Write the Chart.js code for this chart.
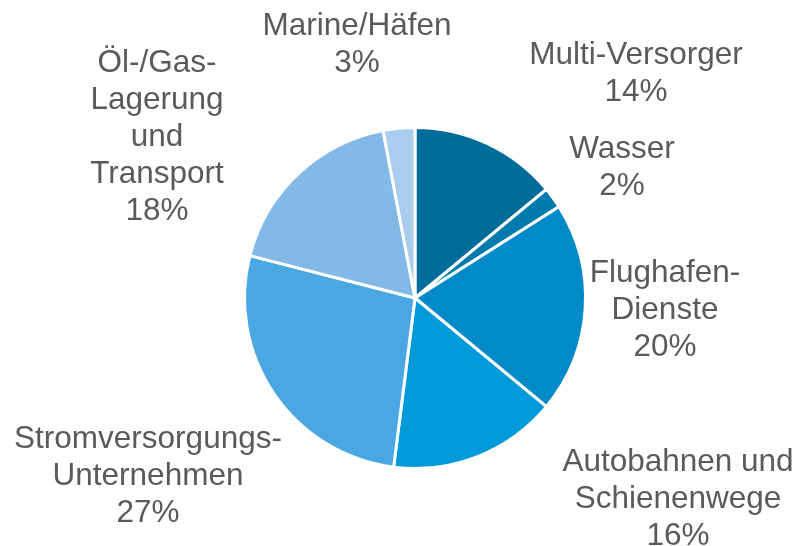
<!DOCTYPE html>
<html>
<head>
<meta charset="utf-8">
<script src="https://cdn.jsdelivr.net/npm/chart.js@4"></script>
<style>
  html, body { margin: 0; padding: 0; background: #fff; }
  #wrap { width: 800px; height: 546px; }
</style>
</head>
<body>
<div id="wrap"><canvas id="chart" width="800" height="546"></canvas></div>
<script>
// data
const categories = [
  "Multi-Versorger",
  "Wasser",
  "Flughafen-\nDienste",
  "Autobahnen und\nSchienenwege",
  "Stromversorgungs-\nUnternehmen",
  "Öl-/Gas-\nLagerung\nund\nTransport",
  "Marine/Häfen"
];
const shares = [14, 2, 20, 16, 27, 18, 3];
const colours = ["#006c9a", "#007aad", "#008bc8", "#0099da", "#4ba7e1", "#83b9e7", "#a9cdee"];

// label anchors (x centre, y of first line)
const labelX = [636, 622, 665, 678, 148, 157, 357];
const labelY = [55, 149, 273, 462, 439, 63, 26];
const lineH = 37;

const outsideLabels = {
  id: "outsideLabels",
  afterDraw(chart) {
    const ctx = chart.ctx;
    ctx.save();
    ctx.font = "31.5px 'Liberation Sans', Arial, sans-serif";
    ctx.fillStyle = "#5a5a5a";
    ctx.textAlign = "center";
    ctx.textBaseline = "middle";
    categories.forEach((c, i) => {
      const lines = c.split("\n").concat([shares[i] + "%"]);
      lines.forEach((t, k) => {
        ctx.fillText(t, labelX[i], labelY[i] + k * lineH);
      });
    });
    ctx.restore();
  }
};

new Chart(document.getElementById("chart"), {
  type: "pie",
  data: {
    labels: categories,
    datasets: [{
      data: shares,
      backgroundColor: colours,
      borderColor: "#ffffff",
      borderWidth: 3
    }]
  },
  options: {
    responsive: false,
    animation: false,
    layout: { padding: { left: 243, right: 213, top: 126, bottom: 76 } },
    plugins: {
      legend: { display: false },
      tooltip: { enabled: false }
    }
  },
  plugins: [outsideLabels]
});
</script>
</body>
</html>
